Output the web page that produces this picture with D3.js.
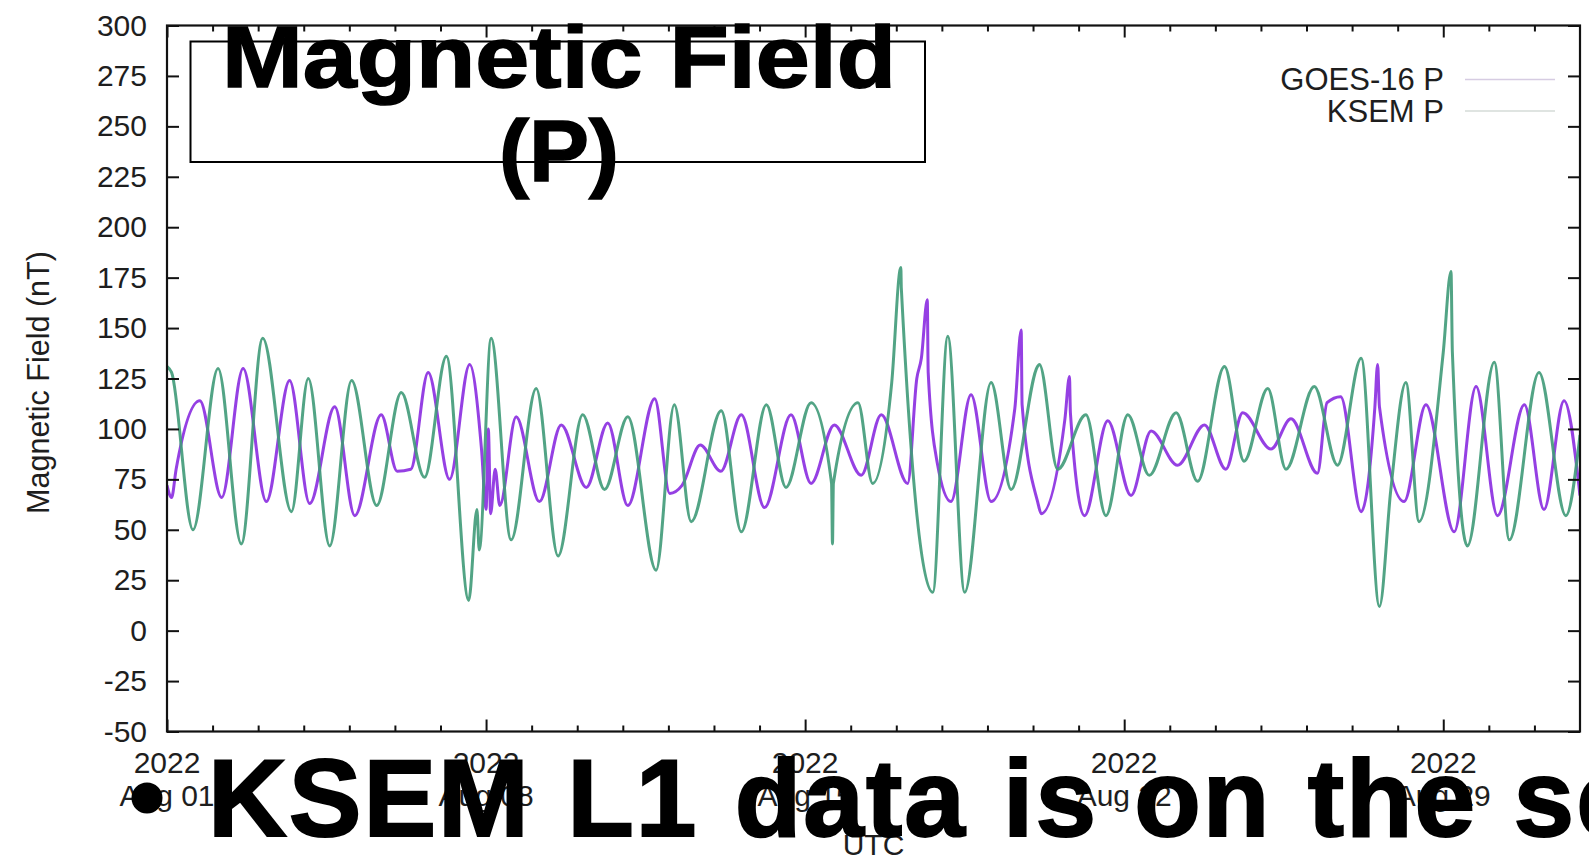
<!DOCTYPE html>
<html>
<head>
<meta charset="utf-8">
<script src="https://cdn.jsdelivr.net/npm/d3@7"></script>
<style>
  html, body { margin: 0; padding: 0; background: #fff; overflow: hidden; }
  svg text { font-family: "Liberation Sans", Arial, Helvetica, sans-serif; }
</style>
</head>
<body>
<div id="chart"></div>
<script>
// time is in days after 2022-08-01 00:00 UTC, values in nT
const goesDays = [0, 0.1, 0.2, 0.72, 1.2, 1.67, 2.18, 2.69, 3.13, 3.68, 4.12, 4.7, 5.05, 5.35, 5.73,
  6.2, 6.64, 6.9, 7.0, 7.05, 7.1, 7.2, 7.3, 7.66, 8.17, 8.65, 9.2, 9.67, 10.11, 10.7, 11.03, 11.3,
  11.7, 12.15, 12.6, 13.11, 13.69, 14.13, 14.64, 15.23, 15.67, 16.25, 16.45, 16.55, 16.68, 16.7,
  16.9, 17.2, 17.64, 18.08, 18.6, 18.74, 18.76, 19.1, 19.18, 19.7, 19.8, 19.82, 20.13, 20.64,
  21.15, 21.59, 22.17, 22.76, 23.23, 23.6, 24.22, 24.66, 25.24, 25.45, 25.75, 26.2, 26.5, 26.56,
  26.6, 27.14, 27.62, 28.24, 28.72, 29.19, 29.78, 30.21, 30.65, 31];
const goesValues = [72, 66, 80, 114, 66, 130, 64, 124, 63, 111, 57, 107, 79, 80, 128,
  75, 132, 90, 60, 100, 58, 80, 62, 106, 64, 102, 71, 103, 62, 115, 68, 72,
  92, 79, 107, 61, 107, 73, 102, 77, 107, 73, 125, 135, 164, 128,
  83, 64, 117, 64, 110, 149, 112, 64, 58, 105, 126, 108, 57, 104,
  67, 99, 82, 102, 80, 108, 90, 105, 78, 113, 116, 59, 111, 132,
  111, 64, 112, 49, 121, 57, 112, 60, 114, 67];

const ksemDays = [0, 0.1, 0.57, 1.12, 1.63, 2.1, 2.73, 3.1, 3.57, 4.05, 4.6, 5.14, 5.65, 6.13,
  6.62, 6.8, 6.85, 7.11, 7.55, 8.1, 8.58, 9.12, 9.6, 10.11, 10.73, 11.13, 11.5, 12.16, 12.6,
  13.15, 13.58, 14.13, 14.58, 14.6, 14.62, 15.16, 15.48, 15.9, 16.1, 16.11, 16.8, 17.13, 17.5,
  18.08, 18.52, 19.1, 19.14, 19.54, 20.16, 20.6, 21.08, 21.55, 22.14, 22.61, 23.2, 23.63, 24.15,
  24.55, 25.17, 25.68, 26.2, 26.6, 26.85, 27.18, 27.47, 28.0, 28.17, 28.2, 28.53, 29.12, 29.45,
  30.1, 30.69, 31];
const ksemValues = [131, 128, 50, 130, 43, 145, 59, 125, 42, 124, 62, 118, 76, 136,
  15, 60, 40, 145, 45, 120, 37, 107, 70, 106, 30, 112, 54, 109, 49,
  112, 71, 113, 73, 43, 73, 113, 73, 123, 180, 170, 19, 146, 19,
  123, 70, 131, 132, 80, 107, 57, 107, 77, 108, 74, 131, 84, 120,
  80, 121, 82, 135, 12, 70, 123, 54, 138, 178, 138, 42, 133, 45,
  128, 57, 97];

const yTicks = [-50, -25, 0, 25, 50, 75, 100, 125, 150, 175, 200, 225, 250, 275, 300];
const xLabelDays = [0, 7, 14, 21, 28];
const xLabelNames = ['Aug 01', 'Aug 08', 'Aug 15', 'Aug 22', 'Aug 29'];
const seriesNames = ['GOES-16 P', 'KSEM P'];
const titleLines = ['Magnetic Field', '(P)'];
const bulletText = 'KSEM L1 data is on the se';

const startDate = new Date(Date.UTC(2022, 7, 1));
const endDate = new Date(Date.UTC(2022, 8, 1));
const dayToDate = d => new Date(startDate.getTime() + d * 864e5);

const width = 1589, height = 864;
const margin = {left: 167, right: 9, top: 25.5, bottom: 132.5};
const colors = ['#8a2be0', '#3f9a78'];
const legendColors = ['#d6cce2', '#d4dbd7'];
const textColor = '#1e1e1e';

function toPoints(days, values){
    var points = [];
    for(let i in days){
        points.push({date: dayToDate(days[i]), v: values[i]});
    }
    return points
}

function draw(node){
    const svg = d3.select(node).append('svg')
        .attr('width', width)
        .attr('height', height);

    const x = d3.scaleUtc()
        .domain([startDate, endDate])
        .range([margin.left, width - margin.right]);
    const y = d3.scaleLinear()
        .domain([-50, 300])
        .range([height - margin.bottom, margin.top]);

    // clip the traces to the plot box
    svg.append('clipPath').attr('id', 'plotClip')
        .append('rect')
        .attr('x', x.range()[0]).attr('y', y.range()[1])
        .attr('width', x.range()[1] - x.range()[0])
        .attr('height', y.range()[0] - y.range()[1]);

    var line = d3.line()
        .x(d => x(d.date))
        .y(d => y(d.v))
        .curve(d3.curveMonotoneX);

    const series = [toPoints(goesDays, goesValues), toPoints(ksemDays, ksemValues)];
    svg.append('g').attr('clip-path', 'url(#plotClip)')
        .selectAll('path')
        .data(series)
        .join('path')
        .attr('d', line)
        .attr('fill', 'none')
        .attr('stroke', (d, i) => colors[i])
        .attr('stroke-width', 3)
        .attr('stroke-linejoin', 'round')
        .attr('stroke-opacity', 0.9);

    // ticks point inward, gnuplot style, mirrored on all four sides
    const days = d3.utcDay.range(startDate, endDate);
    const weeks = xLabelDays.map(dayToDate);
    const minorDays = days.filter(d => !weeks.some(w => w.getTime() === d.getTime()));

    const axes = [
        [d3.axisBottom(x).tickValues(minorDays).tickSize(-6), 'translate(0,' + y(-50) + ')'],
        [d3.axisBottom(x).tickValues(weeks).tickSize(-12), 'translate(0,' + y(-50) + ')'],
        [d3.axisTop(x).tickValues(minorDays).tickSize(-6), 'translate(0,' + y(300) + ')'],
        [d3.axisTop(x).tickValues(weeks).tickSize(-12), 'translate(0,' + y(300) + ')'],
        [d3.axisRight(y).tickValues(yTicks).tickSize(-12), 'translate(' + x(endDate) + ',0)']
    ];
    for(let [axis, tr] of axes){
        svg.append('g')
            .attr('class', 'axis')
            .attr('transform', tr)
            .call(axis.tickSizeOuter(0).tickFormat(''))
            .call(g => g.select('.domain').remove());
    }

    // plain hyphen for negatives, like the original
    var yAxis = d3.axisLeft(y).tickValues(yTicks)
        .tickSizeInner(-12).tickSizeOuter(0).tickPadding(20)
        .tickFormat(d => String(d));
    svg.append('g')
        .attr('class', 'axis')
        .attr('transform', 'translate(' + x(startDate) + ',0)')
        .call(yAxis)
        .call(g => g.select('.domain').remove())
        .call(g => g.selectAll('text')
            .attr('font-size', 30)
            .attr('fill', textColor)
            .attr('font-family', '"Liberation Sans", Arial, sans-serif'));

    svg.selectAll('.axis line').attr('stroke', '#111').attr('stroke-width', 2);

    // border
    svg.append('rect')
        .attr('x', x(startDate)).attr('y', y(300))
        .attr('width', x(endDate) - x(startDate))
        .attr('height', y(-50) - y(300))
        .attr('fill', 'none')
        .attr('stroke', '#111')
        .attr('stroke-width', 2.2);

    // two line date labels
    var xLab = svg.append('g').selectAll('text')
        .data(xLabelNames)
        .join('text')
        .attr('text-anchor', 'middle')
        .attr('font-size', 30)
        .attr('fill', textColor);
    xLab.append('tspan')
        .attr('x', (d, i) => x(dayToDate(xLabelDays[i])))
        .attr('y', 773)
        .text('2022');
    xLab.append('tspan')
        .attr('x', (d, i) => x(dayToDate(xLabelDays[i])))
        .attr('y', 806)
        .text(d => d);

    svg.append('text')
        .attr('x', (x.range()[0] + x.range()[1]) / 2)
        .attr('y', 855)
        .attr('text-anchor', 'middle')
        .attr('font-size', 30)
        .attr('fill', textColor)
        .text('UTC');

    svg.append('text')
        .attr('transform', 'translate(49,' + y(123) + ')rotate(-90)')
        .attr('text-anchor', 'middle')
        .attr('font-size', 30.5)
        .attr('fill', textColor)
        .text('Magnetic Field (nT)');

    // legend, top right
    var legend = svg.append('g').selectAll('g')
        .data(seriesNames)
        .join('g')
        .attr('transform', (d, i) => 'translate(0,' + (79.5 + i * 31.5) + ')');
    legend.append('text')
        .attr('x', 1444)
        .attr('dy', '0.35em')
        .attr('text-anchor', 'end')
        .attr('font-size', 31)
        .attr('fill', textColor)
        .text(d => d);
    legend.append('line')
        .attr('x1', 1465).attr('x2', 1555)
        .attr('stroke', (d, i) => legendColors[i])
        .attr('stroke-width', 1.5);

    // title box pasted over the plot
    svg.append('rect')
        .attr('x', 190.5).attr('y', 41.5)
        .attr('width', 734.5).attr('height', 120.5)
        .attr('fill', 'none')
        .attr('stroke', '#000')
        .attr('stroke-width', 2);
    svg.append('g').selectAll('text')
        .data(titleLines)
        .join('text')
        .attr('x', 559)
        .attr('y', (d, i) => i === 0 ? 87 : 180.5)
        .attr('text-anchor', 'middle')
        .attr('font-size', 87)
        .attr('font-weight', 'bold')
        .attr('textLength', (d, i) => i === 0 ? 674 : 120)
        .attr('lengthAdjust', 'spacingAndGlyphs')
        .attr('fill', '#000')
        .attr('stroke', '#000')
        .attr('stroke-width', 1.5)
        .text(d => d);

    // slide bullet text running off the right edge
    svg.append('circle')
        .attr('cx', 147).attr('cy', 798)
        .attr('r', 15.5)
        .attr('fill', '#000');
    svg.append('text')
        .attr('x', 208)
        .attr('y', 836)
        .attr('font-size', 109)
        .attr('font-weight', 'bold')
        .attr('letter-spacing', 2)
        .attr('word-spacing', 4)
        .attr('fill', '#000')
        .attr('stroke', '#000')
        .attr('stroke-width', 2)
        .text(bulletText);
}

draw(document.getElementById('chart'));
</script>
</body>
</html>
